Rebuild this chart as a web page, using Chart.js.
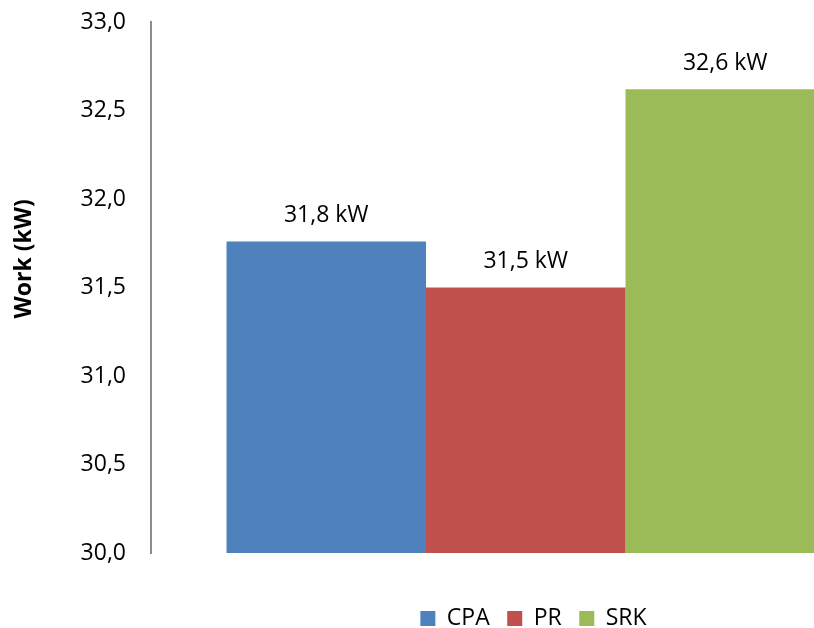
<!DOCTYPE html>
<html>
<head>
<meta charset="utf-8">
<title>Work (kW)</title>
<script src="https://cdn.jsdelivr.net/npm/chart.js@4/dist/chart.umd.min.js"></script>
<style>
  html, body { margin: 0; padding: 0; background: #ffffff; }
  #frame { width: 814px; height: 628px; overflow: hidden; position: relative; }
  #chart { display: block; }
</style>
</head>
<body>
<div id="frame"><canvas id="chart" width="1067" height="628" style="width:1067px;height:628px"></canvas></div>
<script>
// Compressor work per equation of state
const categories = [''];
const seriesNames = ['CPA', 'PR', 'SRK'];
const workValues = [31.76, 31.5, 32.62];
const seriesColors = ['#4F81BD', '#C0504D', '#9BBB59'];
const yTicks = [30.0, 30.5, 31.0, 31.5, 32.0, 32.5, 33.0];
const yTitle = 'Work (kW)';

const FONT = '"Open Sans", "DejaVu Sans", sans-serif';
const fmt = v => v.toFixed(1).replace('.', ',');

// Value labels written above each bar
const barValueLabels = {
  id: 'barValueLabels',
  afterDatasetsDraw(chart) {
    const ctx = chart.ctx;
    ctx.save();
    ctx.font = '23px ' + FONT;
    ctx.fillStyle = '#000000';
    ctx.textAlign = 'center';
    ctx.textBaseline = 'middle';
    chart.data.datasets.forEach((ds, i) => {
      const meta = chart.getDatasetMeta(i);
      meta.data.forEach((bar, j) => {
        ctx.fillText(fmt(ds.data[j]) + ' kW', bar.x, bar.y - 26);
      });
    });
    ctx.restore();
  }
};

// Rotated value-axis title, set a little above the middle of the plot
const valueAxisTitle = {
  id: 'valueAxisTitle',
  afterDraw(chart) {
    const { ctx, chartArea } = chart;
    const y = chartArea.top + (chartArea.bottom - chartArea.top) * 0.446;
    ctx.save();
    ctx.translate(24, y);
    ctx.rotate(-Math.PI / 2);
    ctx.font = 'bold 23px ' + FONT;
    ctx.fillStyle = '#000000';
    ctx.textAlign = 'center';
    ctx.textBaseline = 'middle';
    ctx.fillText(yTitle, 0, 0);
    ctx.restore();
  }
};

const datasets = seriesNames.map((name, i) => ({
  label: name,
  data: [workValues[i]],
  backgroundColor: seriesColors[i],
  borderWidth: 0,
  categoryPercentage: 0.7985,
  barPercentage: 1.0
}));

new Chart(document.getElementById('chart'), {
  type: 'bar',
  data: { labels: categories, datasets },
  plugins: [barValueLabels, valueAxisTitle],
  options: {
    responsive: false,
    animation: false,
    devicePixelRatio: 1,
    layout: { padding: { top: 22, bottom: -12, left: 0, right: 0 } },
    plugins: {
      tooltip: { enabled: false },
      legend: {
        position: 'bottom',
        labels: {
          boxWidth: 15,
          boxHeight: 15,
          padding: 17.5,
          color: '#000000',
          font: { family: FONT, size: 23 }
        }
      }
    },
    scales: {
      x: {
        type: 'category',
        grid: { display: false, drawTicks: false },
        border: { display: false },
        ticks: { display: false },
        afterFit(s) { s.height = 36.5; }
      },
      y: {
        type: 'linear',
        position: 'left',
        min: 30,
        max: 33,
        afterBuildTicks(s) { s.ticks = yTicks.map(v => ({ value: v })); },
        grid: { display: false, drawTicks: false },
        border: { display: true, color: '#8C8C8C', width: 2 },
        ticks: {
          padding: 25,
          color: '#000000',
          font: { family: FONT, size: 23 },
          callback: v => fmt(v)
        },
        title: { display: false, text: yTitle },
        afterFit(s) {
          s.width = 151;
          s.paddingTop = 0;
          s.paddingBottom = 0;
        }
      },
      yRight: {
        type: 'linear',
        position: 'right',
        grid: { display: false, drawTicks: false },
        border: { display: false },
        ticks: { display: false },
        afterFit(s) {
          s.width = 166.5;
          s.paddingTop = 0;
          s.paddingBottom = 0;
        }
      }
    }
  }
});
</script>
</body>
</html>
